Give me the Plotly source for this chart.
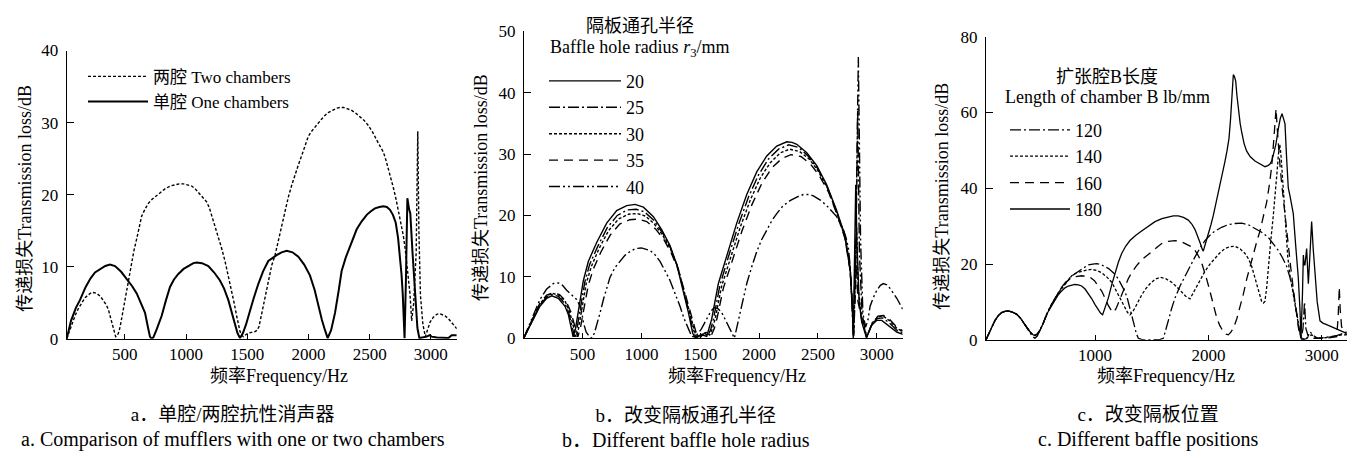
import plotly.graph_objects as go

W, H = 1357, 461
FONT = "Liberation Serif, Times New Roman, Noto Sans CJK SC, serif"

# ---------------- Panel a : one / two chambers ----------------
a_two_f = [25, 60, 93, 120, 147, 175, 202, 229, 250, 270, 300, 324, 345, 365, 382, 398, 412, 425, 440, 452,
           463, 474, 495, 515, 535, 556, 575, 597, 615, 637, 665, 692, 725, 760, 795, 828, 870, 910, 945, 978,
           1010, 1046, 1075, 1100, 1135, 1168, 1190, 1209, 1235, 1264, 1290, 1318, 1345, 1373, 1395, 1413,
           1428, 1441, 1455, 1468, 1490, 1509, 1535, 1563, 1582, 1596, 1612, 1631, 1650, 1672, 1700, 1727,
           1755, 1781, 1810, 1836, 1863, 1890, 1917, 1944, 1972, 1999, 2026, 2053, 2080, 2108, 2135, 2162,
           2196, 2230, 2260, 2285, 2320, 2353, 2387, 2421, 2455, 2489, 2523, 2557, 2585, 2612, 2633, 2653,
           2673, 2693, 2714, 2734, 2755, 2775, 2790, 2802, 2816, 2829, 2836, 2843, 2860, 2880, 2893, 2902,
           2915, 2935, 2955, 2975, 2993, 3020, 3048, 3070, 3089, 3115, 3143, 3180, 3212]
a_two_tl = [0.0, 1.8, 3.2, 4.2, 5.0, 5.7, 6.1, 6.45, 6.4, 6.3, 5.9, 5.4, 4.8, 4.1, 3.0, 1.9, 0.9, 0.3, 0.5, 1.0,
            1.8, 2.8, 4.8, 6.8, 8.8, 10.8, 12.3, 13.9, 15.4, 17.0, 18.0, 18.8, 19.4, 19.9, 20.4, 20.8, 21.2, 21.4, 21.5, 21.5,
            21.4, 21.2, 20.8, 20.3, 19.7, 19.0, 18.2, 17.2, 15.8, 14.3, 12.6, 10.8, 8.8, 6.8, 4.8, 3.2,
            2.0, 1.0, 0.5, 0.3, 0.6, 0.8, 0.9, 1.0, 1.2, 1.7, 3.0, 4.5, 6.3, 8.1, 10.2, 11.6,
            13.7, 15.6, 17.7, 19.7, 21.3, 22.8, 24.1, 25.4, 26.8, 28.1, 28.8, 29.4, 30.0, 30.5, 31.0, 31.4,
            31.7, 32.0, 32.1, 32.1, 31.9, 31.7, 31.3, 30.8, 30.3, 29.6, 28.7, 27.6, 26.8, 25.9, 24.8, 23.6,
            22.3, 21.0, 19.5, 17.9, 16.1, 14.3, 12.5, 10.8, 8.5, 6.3, 4.5, 2.5, 5.0, 12.0, 28.8, 15.0,
            6.0, 2.0, 0.3, 1.3, 2.3, 3.0, 3.4, 3.5, 3.4, 3.2, 2.8, 2.1, 1.4]

a_one_f = [25, 60, 100, 134, 180, 220, 256, 300, 340, 379, 420, 470, 515, 560, 597, 630, 665, 690, 705, 719,
           733, 760, 801, 835, 869, 900, 937, 980, 1019, 1060, 1087, 1130, 1182, 1230, 1277, 1310, 1345, 1375,
           1400, 1420, 1441, 1465, 1490, 1509, 1550, 1590, 1630, 1672, 1710, 1740, 1780, 1822, 1870, 1917,
           1965, 2012, 2050, 2081, 2110, 2135, 2157, 2185, 2217, 2245, 2271, 2305, 2339, 2365, 2394, 2435,
           2476, 2510, 2543, 2580, 2612, 2640, 2666, 2690, 2713, 2732, 2748, 2760, 2770, 2778, 2785, 2796,
           2808, 2822, 2832, 2850, 2870, 2890, 2906, 2935, 2966, 2990, 3006, 3050, 3100, 3143, 3170, 3212]
a_one_tl = [0.0, 2.5, 4.3, 5.4, 7.2, 8.4, 9.2, 9.7, 10.1, 10.3, 10.1, 9.3, 8.3, 7.3, 6.3, 5.0, 3.6, 1.5, 0.3, 0.0,
            0.2, 1.3, 3.2, 5.3, 7.2, 8.2, 9.0, 9.7, 10.1, 10.5, 10.6, 10.5, 10.1, 9.2, 8.1, 7.0, 5.4, 3.6,
            1.9, 0.8, 0.1, 0.8, 2.0, 3.2, 5.5, 7.6, 9.4, 10.8, 11.3, 11.6, 12.0, 12.2, 12.0, 11.4,
            10.3, 8.8, 6.8, 4.5, 2.6, 1.2, 0.1, 1.2, 3.6, 6.5, 9.4, 11.3, 12.8, 14.0, 15.2, 16.3,
            17.2, 17.7, 18.1, 18.3, 18.4, 18.3, 17.9, 17.2, 16.1, 14.0, 11.6, 9.0, 6.3, 3.0, 0.1, 8.0,
            19.5, 18.0, 17.4, 12.0, 6.0, 1.5, 0.1, 0.2, 0.3, 0.5, 0.3, 0.2, 0.2, 0.1, 0.5, 0.5]

# ---------------- Panel b : baffle hole radius ----------------
b_r20_f = [0, 40, 82, 138, 195, 238, 294, 351, 380, 400, 420, 440, 464, 485, 507, 549, 620, 705, 790, 875, 946,
           1017, 1102, 1172, 1243, 1300, 1356, 1399, 1436, 1456, 1490, 1520, 1555, 1575, 1597, 1654, 1725,
           1810, 1895, 1980, 2065, 2150, 2235, 2280, 2320, 2405, 2490, 2574, 2659, 2730, 2773, 2792, 2800,
           2810, 2821, 2832, 2850, 2872, 2912, 2957, 3000, 3042, 3099, 3170, 3220]
b_r20_tl = [0.0, 1.5, 3.1, 5.2, 6.5, 6.9, 6.5, 5.2, 3.8, 2.0, 0.2, 1.5, 4.2, 7.0, 9.4, 12.5, 15.6, 18.75, 20.8, 21.6, 21.8,
            21.35, 19.8, 17.7, 15.1, 12.0, 7.8, 4.2, 0.8, 0.1, 0.4, 0.5, 0.3, 1.5, 3.1, 8.9, 13.5,
            18.75, 23.4, 27.1, 29.7, 31.3, 32.0, 31.9, 31.6, 30.2, 28.1, 25.0, 20.8, 16.7, 11.5, 5.0, 0.0,
            10.0, 25.0, 15.0, 6.0, 2.6, 0.1, 2.1, 2.9, 2.9, 2.1, 1.0, 0.6]

b_r25_f = [0, 40, 82, 138, 195, 240, 295, 352, 385, 410, 432, 452, 475, 498, 520, 560, 630, 710, 795, 880, 955,
           1025, 1105, 1175, 1245, 1305, 1360, 1405, 1445, 1468, 1500, 1530, 1565, 1590, 1612, 1668, 1740,
           1825, 1910, 1995, 2080, 2165, 2250, 2335, 2415, 2495, 2580, 2660, 2730, 2773, 2793, 2803,
           2822, 2838, 2852, 2875, 2913, 2960, 3005, 3050, 3105, 3170, 3220]
b_r25_tl = [0.0, 1.5, 3.2, 5.4, 6.7, 7.1, 6.8, 5.6, 4.0, 2.0, 0.2, 1.5, 4.2, 7.0, 9.2, 12.0, 15.0, 18.0, 20.0, 20.9, 21.0,
            20.6, 19.2, 17.3, 14.8, 11.8, 7.8, 4.2, 0.8, 0.1, 0.5, 0.8, 0.4, 1.5, 3.1, 8.7, 13.3,
            18.5, 23.0, 26.6, 29.2, 30.8, 31.5, 31.1, 29.7, 27.7, 24.6, 20.5, 16.5, 11.3, 5.0, 0.3,
            14.0, 37.0, 14.0, 4.0, 0.1, 2.3, 3.2, 3.3, 2.5, 1.3, 0.9]

b_r30_f = [0, 40, 82, 138, 195, 245, 300, 355, 392, 420, 445, 465, 488, 510, 532, 575, 640, 720, 805, 890, 965,
           1035, 1110, 1180, 1250, 1310, 1365, 1410, 1455, 1485, 1515, 1545, 1580, 1605, 1627, 1682, 1755,
           1840, 1925, 2010, 2095, 2180, 2260, 2345, 2425, 2500, 2585, 2662, 2730, 2773, 2794, 2803,
           2816, 2828, 2842, 2870, 2913, 2962, 3008, 3055, 3110, 3170, 3220]
b_r30_tl = [0.0, 1.6, 3.3, 5.6, 6.9, 7.3, 7.0, 5.9, 4.2, 2.2, 0.2, 1.5, 4.2, 6.8, 9.0, 11.7, 14.6, 17.5, 19.4, 20.2, 20.3,
            19.9, 18.6, 16.8, 14.4, 11.5, 7.6, 4.2, 0.9, 0.1, 0.6, 0.9, 0.5, 1.6, 3.2, 8.5, 13.0,
            18.1, 22.5, 26.1, 28.6, 30.2, 30.8, 30.4, 29.2, 27.3, 24.3, 20.3, 16.4, 11.2, 5.0, 0.4,
            9.0, 18.0, 8.0, 3.5, 0.2, 2.5, 3.5, 3.6, 2.8, 1.6, 1.1]

b_r35_f = [0, 40, 82, 138, 195, 250, 305, 360, 400, 430, 460, 480, 502, 525, 548, 590, 655, 735, 815, 900, 975,
           1045, 1120, 1190, 1255, 1315, 1370, 1415, 1465, 1500, 1530, 1560, 1595, 1620, 1642, 1697, 1770,
           1855, 1940, 2025, 2110, 2195, 2270, 2355, 2430, 2505, 2590, 2665, 2730, 2773, 2794, 2803,
           2815, 2826, 2840, 2870, 2914, 2965, 3010, 3058, 3112, 3170, 3220]
b_r35_tl = [0.0, 1.6, 3.4, 5.7, 7.0, 7.4, 7.1, 6.0, 4.3, 2.3, 0.2, 1.5, 4.0, 6.5, 8.6, 11.2, 14.0, 16.8, 18.6, 19.3, 19.4,
            19.0, 17.8, 16.1, 13.8, 11.1, 7.4, 4.1, 0.9, 0.1, 0.7, 1.0, 0.5, 1.6, 3.2, 8.2, 12.6,
            17.5, 21.8, 25.3, 27.8, 29.3, 29.9, 29.6, 28.5, 26.7, 23.8, 20.0, 16.2, 11.0, 4.8, 0.5,
            6.0, 12.0, 6.0, 3.2, 0.2, 2.6, 3.6, 3.7, 3.0, 1.8, 1.2]

b_r40_f = [0, 40, 82, 138, 195, 252, 294, 330, 365, 410, 450, 478, 495, 507, 530, 549, 578, 600, 620, 650, 677,
           705, 733, 775, 818, 860, 903, 950, 1000, 1045, 1073, 1115, 1158, 1200, 1243, 1285, 1328, 1360,
           1385, 1410, 1427, 1450, 1470, 1510, 1555, 1590, 1620, 1650, 1682, 1715, 1739, 1765, 1790, 1815,
           1838, 1865, 1895, 1940, 1980, 2020, 2065, 2110, 2150, 2200, 2263, 2320, 2376, 2420, 2461, 2520,
           2574, 2620, 2659, 2690, 2716, 2740, 2759, 2775, 2788, 2800, 2822, 2843, 2862, 2882, 2905, 2925,
           2943, 2970, 3000, 3030, 3056, 3085, 3113, 3140, 3170, 3195, 3220]
b_r40_tl = [0.0, 1.8, 3.8, 6.3, 8.0, 8.9, 9.0, 8.6, 7.8, 7.0, 6.3, 5.2, 4.0, 2.6, 1.0, 0.5, 0.0, 0.8, 2.1, 4.2, 6.3,
            8.3, 9.9, 11.5, 12.5, 13.5, 14.1, 14.6, 14.7, 14.5, 14.3, 13.6, 12.5, 11.0, 9.4, 7.3, 5.2, 3.3,
            2.1, 1.0, 0.3, 0.2, 0.5, 1.5, 3.1, 4.4, 5.0, 4.8, 4.2, 3.0, 2.1, 1.0, 0.0, 2.0,
            4.2, 6.5, 8.9, 11.8, 14.1, 16.0, 17.7, 19.2, 20.3, 21.5, 22.4, 23.0, 23.4, 23.4, 23.2, 22.5,
            21.6, 20.7, 19.8, 18.7, 17.7, 16.3, 14.6, 11.5, 6.0, 0.5, 16.0, 45.8, 16.0, 4.0, 1.8, 3.0,
            5.2, 6.6, 7.8, 8.6, 8.9, 8.7, 8.1, 7.4, 6.5, 5.6, 4.7]

# ---------------- Panel c : length of chamber B ----------------
c_l120_f = [38, 80, 117, 150, 176, 205, 235, 270, 309, 340, 367, 398, 426, 450, 470, 490, 514, 545, 573, 610, 647,
            676, 706, 735, 764, 810, 853, 900, 941, 980, 1014, 1050, 1088, 1120, 1147, 1178, 1206, 1235, 1264,
            1287, 1308, 1328, 1347, 1365, 1382, 1410, 1441, 1490, 1544, 1575, 1603, 1625, 1647, 1675, 1705,
            1750, 1794, 1838, 1882, 1926, 1970, 2014, 2058, 2117, 2176, 2235, 2294, 2352, 2411, 2470, 2529,
            2575, 2617, 2655, 2690, 2720, 2749, 2772, 2793, 2817, 2835, 2848, 2860, 2880, 2896, 2925, 2955,
            3000, 3040, 3073, 3120, 3170, 3220]
c_l120_tl = [0.0, 2.8, 5.1, 6.5, 7.2, 7.5, 7.6, 7.3, 6.75, 5.8, 4.6, 3.0, 1.8, 0.8, 0.4, 1.0, 2.5, 4.5, 6.75, 9.0, 11.0,
             12.5, 13.9, 15.0, 16.0, 17.2, 18.1, 19.0, 19.8, 20.0, 20.1, 19.9, 19.4, 18.8, 18.1, 17.2, 16.0, 14.5, 12.7,
             10.7, 8.4, 5.8, 3.4, 1.6, 0.4, 0.1, 0.0, 0.0, 0.0, 0.1, 0.4, 2.5, 5.1, 8.2, 11.0,
             14.2, 16.9, 19.5, 21.9, 24.2, 26.2, 27.6, 28.7, 29.7, 30.4, 30.7, 30.8, 30.4, 29.5, 28.4, 27.0,
             25.3, 23.6, 21.6, 19.4, 16.4, 12.7, 8.5, 4.2, 0.2, 3.0, 10.0, 3.0, 1.0, 2.1, 1.2, 0.4,
             0.5, 0.7, 0.8, 1.0, 1.5, 2.1]

c_l140_f = [38, 80, 117, 150, 176, 205, 235, 270, 309, 340, 367, 398, 426, 450, 470, 490, 514, 545, 573, 610, 647,
            676, 706, 750, 794, 838, 882, 926, 970, 1014, 1058, 1100, 1147, 1176, 1206, 1235, 1264, 1287, 1308,
            1330, 1352, 1380, 1411, 1448, 1485, 1530, 1573, 1620, 1676, 1720, 1764, 1800, 1838, 1870, 1897,
            1935, 1970, 2014, 2058, 2100, 2147, 2190, 2235, 2280, 2323, 2355, 2382, 2405, 2426, 2450, 2470,
            2485, 2499, 2515, 2529, 2550, 2573, 2590, 2605, 2618, 2630, 2640, 2652, 2665, 2680, 2700, 2720,
            2742, 2764, 2785, 2808, 2830, 2852, 2880, 2911, 2950, 3000, 3045, 3088, 3130, 3176, 3220]
c_l140_tl = [0.0, 2.8, 5.1, 6.5, 7.2, 7.5, 7.6, 7.3, 6.75, 5.8, 4.6, 3.2, 2.1, 1.4, 1.1, 1.5, 2.5, 4.5, 6.75, 9.0, 11.0,
             12.3, 13.5, 15.3, 16.9, 17.7, 18.1, 18.4, 18.6, 18.3, 17.7, 16.7, 15.2, 13.6, 11.8, 10.0, 8.4, 7.2, 6.6,
             7.3, 8.4, 10.2, 11.8, 13.5, 14.8, 16.0, 16.5, 16.2, 15.2, 14.0, 12.7, 11.5, 10.8, 12.6, 14.3,
             16.4, 18.1, 20.0, 21.5, 22.9, 24.1, 24.6, 24.7, 24.0, 22.8, 21.3, 19.4, 17.0, 14.3, 11.9, 10.1,
             9.7, 10.1, 14.0, 19.4, 26.0, 32.9, 38.0, 44.0, 49.0, 51.5, 49.0, 44.7, 38.0, 31.2, 22.0, 17.0,
             13.0, 9.3, 5.0, 1.7, 0.4, 0.0, 0.8, 1.3, 0.6, 0.4, 0.6, 0.8, 1.0, 1.3, 1.3]

c_l160_f = [38, 80, 117, 150, 176, 205, 235, 270, 309, 340, 367, 398, 426, 450, 470, 490, 514, 545, 573, 610, 647,
            676, 706, 750, 794, 838, 882, 920, 956, 995, 1029, 1060, 1088, 1118, 1147, 1161, 1185, 1206, 1235,
            1264, 1293, 1323, 1365, 1411, 1470, 1529, 1588, 1647, 1705, 1760, 1808, 1850, 1882, 1915, 1941,
            1965, 1985, 2008, 2029, 2050, 2073, 2100, 2132, 2155, 2176, 2198, 2220, 2250, 2279, 2308, 2338,
            2367, 2397, 2426, 2455, 2485, 2514, 2536, 2558, 2575, 2588, 2597, 2607, 2617, 2632, 2646, 2661,
            2676, 2690, 2705, 2727, 2749, 2771, 2793, 2808, 2823, 2850, 2882, 2950, 3029, 3080, 3132, 3145,
            3155, 3163, 3175, 3195, 3220]
c_l160_tl = [0.0, 2.8, 5.1, 6.5, 7.2, 7.5, 7.6, 7.3, 6.75, 5.8, 4.6, 3.2, 2.1, 1.4, 1.1, 1.5, 2.5, 4.5, 6.75, 9.0, 11.0,
             12.4, 13.5, 15.3, 16.5, 16.8, 16.9, 16.8, 16.5, 15.6, 14.3, 12.8, 11.0, 9.0, 7.6, 7.2, 8.2, 9.7, 12.0,
             14.3, 16.1, 17.7, 19.5, 21.1, 22.6, 24.0, 25.4, 26.0, 26.2, 25.9, 25.3, 24.6, 23.6, 22.0, 20.3,
             18.2, 16.0, 13.5, 11.0, 8.5, 5.9, 3.8, 2.1, 1.5, 1.3, 2.0, 3.0, 5.5, 8.4, 12.0, 16.0,
             19.5, 22.8, 25.8, 28.7, 32.3, 36.3, 40.5, 45.6, 52.0, 57.4, 61.0, 56.0, 51.5, 46.0, 41.4, 37.0,
             32.9, 28.7, 24.5, 19.0, 13.5, 8.3, 3.4, 1.3, 0.0, 0.2, 0.4, 0.4, 0.4, 0.6, 0.8, 6.0,
             13.9, 8.0, 3.5, 2.2, 1.3]

c_l180_f = [38, 80, 117, 150, 176, 205, 235, 270, 309, 340, 367, 398, 426, 450, 470, 490, 514, 545, 573, 610, 647,
            676, 706, 735, 764, 794, 823, 852, 882, 912, 941, 970, 1000, 1030, 1050, 1067, 1090, 1117, 1147,
            1176, 1205, 1235, 1270, 1308, 1360, 1411, 1470, 1529, 1590, 1647, 1690, 1735, 1780, 1823, 1855,
            1882, 1905, 1926, 1945, 1955, 1975, 2000, 2022, 2044, 2066, 2088, 2118, 2147, 2165, 2182, 2195,
            2205, 2213, 2220, 2230, 2241, 2252, 2264, 2280, 2294, 2315, 2338, 2370, 2411, 2455, 2500, 2525,
            2544, 2560, 2573, 2595, 2617, 2635, 2650, 2662, 2676, 2690, 2705, 2720, 2735, 2749, 2770, 2793,
            2808, 2817, 2830, 2838, 2845, 2852, 2860, 2867, 2875, 2882, 2897, 2911, 2925, 2940, 2960, 2985,
            3010, 3043, 3090, 3132, 3175, 3220]
c_l180_tl = [0.0, 2.8, 5.1, 6.5, 7.2, 7.5, 7.6, 7.3, 6.75, 5.8, 4.6, 3.2, 2.1, 1.4, 1.1, 1.5, 2.5, 4.5, 6.75, 8.6, 10.5,
             11.9, 12.9, 13.7, 14.2, 14.5, 14.6, 14.5, 14.2, 13.4, 12.2, 10.9, 9.3, 7.8, 7.0, 6.6, 8.5, 11.0, 14.5,
             17.7, 20.4, 22.8, 24.7, 26.2, 27.6, 28.7, 30.0, 31.2, 32.0, 32.5, 32.7, 32.7, 32.3, 31.6, 30.5,
             29.1, 27.5, 25.7, 24.0, 23.4, 25.5, 27.8, 30.3, 32.9, 35.8, 38.8, 43.0, 47.2, 50.0, 53.2, 58.0,
             62.4, 67.0, 70.0, 69.5, 68.3, 64.5, 60.7, 57.2, 54.8, 51.8, 49.8, 48.3, 47.2, 46.4, 45.7, 46.0,
             46.4, 47.3, 48.9, 51.5, 55.7, 58.5, 59.7, 58.5, 57.0, 48.1, 40.1, 38.0, 35.5, 33.3, 25.0, 16.5,
             8.0, 0.5, 12.0, 22.4, 19.8, 19.8, 22.0, 24.1, 19.0, 14.8, 23.0, 31.2, 24.0, 18.1, 10.0, 5.0,
             4.4, 4.0, 3.4, 3.0, 2.4, 1.7]

a_names = ["两腔 Two chambers", "单腔 One chambers"]
b_names = ["20", "25", "30", "35", "40"]
c_names = ["120", "140", "160", "180"]
a_ticks = [0, 10, 20, 30, 40]
b_ticks = [0, 10, 20, 30, 40, 50]
c_ticks = [0, 20, 40, 60, 80]
ab_xticks = [500, 1000, 1500, 2000, 2500, 3000]
c_xticks = [1000, 2000, 3000]

DOT = "3px,2px"
DASH = "9px,6px"
DASHDOT = "11px,3px,2px,3px"
DASHDOTDOT = "11px,3px,2px,3px,2px,3px"

fig = go.Figure()

def add(x, y, name, dash, width, xa, ya, leg):
    fig.add_trace(go.Scatter(x=x, y=y, name=name, mode="lines",
                             line=dict(color="black", width=width, dash=dash),
                             xaxis=xa, yaxis=ya, legend=leg))

add(a_two_f, a_two_tl, a_names[0], DOT, 1.4, "x", "y", "legend")
add(a_one_f, a_one_tl, a_names[1], "solid", 2.0, "x", "y", "legend")

for xs, ys, nm, ds in [(b_r20_f, b_r20_tl, b_names[0], "solid"),
                       (b_r25_f, b_r25_tl, b_names[1], DASHDOT),
                       (b_r30_f, b_r30_tl, b_names[2], DOT),
                       (b_r35_f, b_r35_tl, b_names[3], DASH),
                       (b_r40_f, b_r40_tl, b_names[4], DASHDOTDOT)]:
    add(xs, ys, nm, ds, 1.4, "x2", "y2", "legend2")

for xs, ys, nm, ds in [(c_l120_f, c_l120_tl, c_names[0], DASHDOT),
                       (c_l140_f, c_l140_tl, c_names[1], DOT),
                       (c_l160_f, c_l160_tl, c_names[2], DASH),
                       (c_l180_f, c_l180_tl, c_names[3], "solid")]:
    add(xs, ys, nm, ds, 1.3, "x3", "y3", "legend3")

def px(xp):
    return xp / W

def py(yp):
    return 1 - yp / H

tickfont = dict(family=FONT, size=17, color="black")

def xaxis(dom, rng, ticks, anchor):
    return dict(domain=dom, range=rng, tickvals=ticks, ticktext=[str(t) for t in ticks],
                showgrid=False, zeroline=False, showline=True, linecolor="black", linewidth=1.3,
                ticks="inside", ticklen=5, tickwidth=1, tickcolor="black", tickfont=tickfont,
                anchor=anchor, fixedrange=True)

def yaxis(dom, rng, ticks, anchor):
    return dict(domain=dom, range=rng, tickvals=ticks, ticktext=[str(t) for t in ticks],
                showgrid=False, zeroline=False, showline=True, linecolor="black", linewidth=1.3,
                ticks="inside", ticklen=7, tickwidth=1, tickcolor="black", tickfont=tickfont,
                anchor=anchor, fixedrange=True, ticklabelstandoff=4)

legfont = dict(family=FONT, size=18, color="black")

fig.update_layout(
    width=W, height=H, margin=dict(l=0, r=0, t=0, b=0),
    paper_bgcolor="white", plot_bgcolor="white",
    font=dict(family=FONT, color="black"),
    xaxis=xaxis([px(66.7), px(456.7)], [25, 3211], ab_xticks, "y"),
    yaxis=yaxis([py(344), py(43.3)], [0, 40], a_ticks, "x"),
    xaxis2=xaxis([px(524), px(902.7)], [2.5, 3220], ab_xticks, "y2"),
    yaxis2=yaxis([py(343.3), py(23.3)], [0, 50], b_ticks, "x2"),
    xaxis3=xaxis([px(986), px(1347)], [38, 3223], c_xticks, "y3"),
    yaxis3=yaxis([py(345), py(29)], [0, 80], c_ticks, "x3"),
    legend=dict(x=px(83), y=py(52), xanchor="left", yanchor="top",
                font=dict(family=FONT, size=17, color="black"),
                bgcolor="rgba(0,0,0,0)", itemwidth=60, tracegroupgap=0),
    legend2=dict(x=px(544), y=py(56), xanchor="left", yanchor="top", font=legfont,
                 bgcolor="rgba(0,0,0,0)", itemwidth=72),
    legend3=dict(x=px(1005), y=py(107), xanchor="left", yanchor="top", font=legfont,
                 bgcolor="rgba(0,0,0,0)", itemwidth=60),
)

ann = []
def text(xp, yp, s, size, angle=0):
    ann.append(dict(x=px(xp), y=py(yp), xref="paper", yref="paper", text=s, showarrow=False,
                    xanchor="center", yanchor="middle", textangle=angle,
                    font=dict(family=FONT, size=size, color="black")))

# legend titles
text(640, 18, "隔板通孔半径", 18)
text(639.5, 41, "Baffle hole radius <i>r</i><sub>3</sub>/mm", 18)
text(1107, 71, "扩张腔B长度", 18)
text(1107, 92, "Length of chamber B lb/mm", 18)

# axis titles
ytitle = "传递损失Transmission loss/dB"
xtitle = "频率Frequency/Hz"
text(25, 198, ytitle, 18, -90)
text(481.7, 186, ytitle, 18, -90)
text(941.7, 195, ytitle, 18, -90)
text(279, 383, xtitle, 18)
text(736.7, 383, xtitle, 18)
text(1166, 383, xtitle, 18)

# captions (two lines each: Chinese / English)
def cap(cn, en):
    return cn + '<br><span style="font-size:20px">' + en + '</span>'

text(233, 437, cap("a．单腔/两腔抗性消声器", "a. Comparison of mufflers with one or two chambers"), 19)
text(686, 437, cap("b．改变隔板通孔半径", "b．Different baffle hole radius"), 19)
text(1148, 437, cap("c．改变隔板位置", "c. Different baffle positions"), 19)

fig.update_layout(annotations=ann)
fig.write_html("out.html")
